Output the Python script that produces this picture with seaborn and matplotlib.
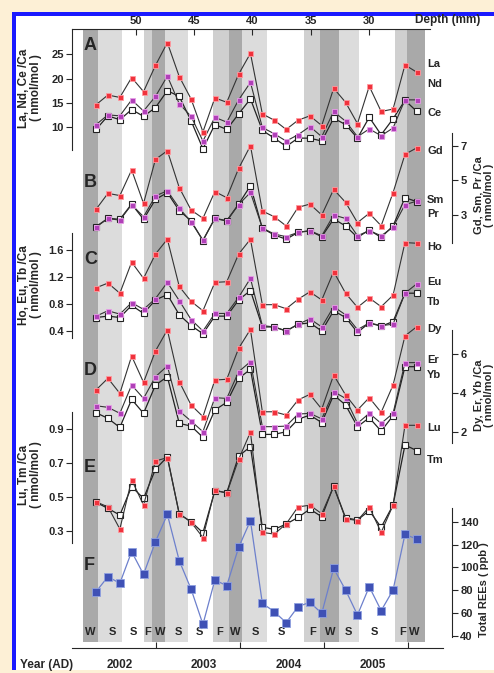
import matplotlib
matplotlib.use("Agg")
import matplotlib.pyplot as plt
import seaborn as sns
import numpy as np
from matplotlib.patches import Rectangle

sns.set_style("white")
plt.rcParams['font.family'] = ['Liberation Sans', 'DejaVu Sans']
plt.rcParams['font.weight'] = 'bold'

depth = [53.40, 52.38, 51.36, 50.35, 49.33, 48.31, 47.29, 46.27, 45.26, 44.24, 43.22, 42.20, 41.18, 40.17,
         39.15, 38.13, 37.11, 36.09, 35.08, 34.06, 33.04, 32.02, 31.00, 29.99, 28.97, 27.95, 26.93, 25.91]

La = [14.6, 16.6, 16.1, 20.2, 17.3, 22.7, 27.4, 20.4, 15.8, 9.0, 16.0, 15.1, 20.9, 25.2, 12.7, 11.4, 9.5, 11.4,
      12.3, 10.3, 18.0, 15.1, 10.7, 18.4, 13.2, 13.7, 22.8, 21.3]
Nd = [10.5, 12.5, 12.3, 15.6, 13.3, 16.3, 20.5, 14.8, 12.2, 7.1, 12.0, 11.0, 15.6, 19.2, 9.9, 8.6, 7.1, 8.4,
      10.1, 8.0, 13.2, 11.2, 8.0, 9.6, 8.2, 9.8, 15.6, 15.6]
Ce = [9.5, 12.3, 11.5, 13.6, 12.2, 14.0, 17.5, 16.3, 11.3, 5.5, 10.5, 9.5, 12.7, 15.8, 9.3, 7.7, 6.0, 7.7,
      7.7, 7.1, 11.8, 10.5, 7.7, 12.0, 8.4, 11.7, 15.5, 13.2]
Gd = [3.33, 4.25, 4.12, 5.6, 3.67, 6.21, 6.71, 4.58, 3.29, 2.81, 4.35, 4.0, 5.69, 7.0, 3.23, 2.9, 2.37, 3.44,
      3.63, 3.0, 4.48, 3.73, 2.56, 3.1, 2.38, 4.29, 6.5, 6.88]
Sm = [2.33, 2.81, 2.75, 3.63, 2.75, 3.9, 4.29, 3.25, 2.67, 1.52, 2.81, 2.67, 3.63, 4.69, 2.23, 1.85, 1.6, 2.0,
      2.08, 1.75, 2.77, 2.37, 1.71, 2.13, 1.71, 2.37, 4.0, 3.77]
Pr = [2.3, 2.8, 2.7, 3.6, 2.9, 4.1, 4.4, 3.4, 2.6, 1.55, 2.8, 2.65, 3.6, 4.3, 2.25, 1.9, 1.75, 2.0, 2.1, 1.8,
      3.0, 2.8, 1.8, 2.1, 1.8, 2.3, 3.6, 3.8]
Ho = [1.04, 1.11, 0.96, 1.42, 1.18, 1.54, 1.76, 1.06, 0.84, 0.70, 1.12, 1.13, 1.54, 1.76, 0.79, 0.79, 0.73,
      0.87, 0.98, 0.86, 1.28, 0.96, 0.75, 0.89, 0.76, 0.93, 1.71, 1.70]
Eu = [0.62, 0.70, 0.65, 0.82, 0.72, 0.88, 1.12, 0.85, 0.57, 0.40, 0.66, 0.66, 0.90, 1.18, 0.48, 0.46, 0.40,
      0.50, 0.58, 0.46, 0.76, 0.64, 0.42, 0.52, 0.48, 0.50, 0.96, 1.10]
Tb = [0.60, 0.62, 0.60, 0.78, 0.66, 0.86, 0.94, 0.64, 0.48, 0.36, 0.62, 0.62, 0.86, 1.00, 0.46, 0.46, 0.40,
      0.50, 0.52, 0.40, 0.70, 0.60, 0.38, 0.52, 0.47, 0.54, 0.96, 0.96]
Dy = [4.16, 4.76, 3.98, 5.91, 4.55, 6.17, 7.26, 4.59, 3.38, 2.78, 4.67, 4.71, 6.31, 7.29, 3.03, 3.03, 2.86,
      3.64, 3.93, 3.17, 4.93, 3.9, 3.12, 3.76, 3.0, 4.41, 6.95, 7.43]
Er = [3.34, 3.26, 2.95, 4.41, 3.72, 4.84, 5.40, 3.07, 2.55, 2.0, 3.76, 3.72, 5.10, 5.62, 2.26, 2.26, 2.29,
      2.91, 2.95, 2.66, 4.07, 3.72, 2.43, 2.95, 2.43, 2.95, 5.57, 5.57]
Yb = [2.98, 2.69, 2.22, 3.67, 2.95, 4.41, 4.84, 2.43, 2.29, 1.71, 3.12, 3.52, 4.76, 5.22, 1.86, 1.86, 2.0,
      2.64, 2.86, 2.47, 3.9, 3.38, 2.26, 2.72, 2.03, 2.83, 5.36, 5.36]
Lu = [0.47, 0.44, 0.31, 0.60, 0.45, 0.71, 0.73, 0.40, 0.35, 0.26, 0.54, 0.52, 0.72, 0.88, 0.29, 0.28, 0.34,
      0.44, 0.45, 0.40, 0.56, 0.37, 0.36, 0.44, 0.29, 0.45, 0.92, 0.92]
Tm = [0.467, 0.431, 0.392, 0.559, 0.49, 0.661, 0.735, 0.398, 0.353, 0.288, 0.535, 0.524, 0.739, 0.794, 0.320,
      0.308, 0.339, 0.378, 0.427, 0.382, 0.563, 0.376, 0.363, 0.418, 0.320, 0.451, 0.804, 0.771]
Total = [78.8, 91.9, 86.1, 113.8, 93.9, 122.5, 146.4, 105.9, 81.1, 50.2, 89.0, 84.0, 117.6, 140.9, 68.6, 61.3,
         51.7, 65.7, 69.5, 59.8, 99.2, 80.2, 58.4, 83.1, 62.2, 80.2, 128.9, 124.8]

band_edges = [54.49, 53.2, 51.2, 49.29, 48.57, 47.49, 45.49, 43.34, 41.97, 40.91, 38.77, 35.57, 34.2, 32.57,
              30.83, 27.77, 26.77, 25.2]
band_shade = ['#a9a9a9', '#dcdcdc', None, '#d0d0d0', '#a9a9a9', '#dcdcdc', None, '#cfcfcf', '#a9a9a9',
              '#dcdcdc', None, '#d0d0d0', '#a9a9a9', '#dcdcdc', None, '#d0d0d0', '#a9a9a9']
season_labels = ['W', 'S', 'S', 'F', 'W', 'S', 'S', 'F', 'W', 'S', 'S', 'F', 'W', 'S', 'S', 'F', 'W']
season_pos = [53.92, 52.03, 50.23, 48.95, 47.92, 46.38, 44.58, 42.78, 41.49, 39.78, 37.55, 34.8, 33.35, 31.8,
              29.58, 27.1, 26.15]
year_labels = ['2002', '2003', '2004', '2005']
year_label_pos = [51.4, 44.15, 36.87, 29.67]
year_ticks = [48.26, 41.06, 33.86, 26.67]
depth_ticks = [50, 45, 40, 35, 30]

W, H = 494, 673
fig = plt.figure(figsize=(W / 100, H / 100), dpi=100)
fig.patch.set_facecolor('#fdf0d6')
fig.patches.append(Rectangle((12 / W, 0.005), 1, 1 - 12 / H - 0.005, transform=fig.transFigure,
                             facecolor='white', edgecolor='none', zorder=-5))
fig.patches.append(Rectangle((12 / W, 0.005), 4 / W, 1 - 12 / H - 0.005, transform=fig.transFigure,
                             facecolor='#1a1aff', edgecolor='none', zorder=-4))
fig.patches.append(Rectangle((12 / W, 1 - 16 / H), 1, 4 / H, transform=fig.transFigure,
                             facecolor='#1a1aff', edgecolor='none', zorder=-4))

TOP, BOT, LEFT, RIGHT = 29, 648, 72, 452
rect = [LEFT / W, 1 - BOT / H, (RIGHT - LEFT) / W, (BOT - TOP) / H]
XL = (55.46, 22.9)

base = fig.add_axes(rect)
base.set_facecolor('none')
base.set_xlim(*XL)
base.set_ylim(0, 1)
for i, c in enumerate(band_shade):
    if c:
        base.axvspan(band_edges[i], band_edges[i + 1], ymin=0.01, ymax=1, color=c, lw=0, zorder=0)
for s in ['left', 'right']:
    base.spines[s].set_visible(False)
base.spines['top'].set_bounds(55.46, 24.8)
base.spines['bottom'].set_bounds(55.46, 23.7)
base.set_yticks([])
base.set_xticks(year_ticks)
base.set_xticklabels([])
base.tick_params(axis='x', direction='in', length=4, bottom=True, top=False)
sec = base.secondary_xaxis('top')
sec.set_xticks(depth_ticks)
sec.set_xticklabels([str(t) for t in depth_ticks], fontsize=8, fontweight='bold')
sec.tick_params(direction='in', length=4, pad=2)
sec.spines['top'].set_visible(False)
for lab, p in zip(season_labels, season_pos):
    base.text(p, 0.018, lab, ha='center', va='bottom', fontsize=8, fontweight='bold')
for lab, p in zip(year_labels, year_label_pos):
    base.text(p, -0.027, lab, ha='center', va='center', fontsize=8.5, fontweight='bold',
              transform=base.get_xaxis_transform())
fig.text(20 / W, 1 - 665 / H, 'Year (AD)', fontsize=8.5, fontweight='bold', va='center')
fig.text(448 / W, 1 - 20 / H, 'Depth (mm)', fontsize=8.5, fontweight='bold', ha='center', va='center')


def panel(v1, p1, v2, p2, side, sp, ticks, fmt):
    ax = fig.add_axes(rect, sharex=base)
    ax.set_facecolor('none')
    s = (v1 - v2) / (p2 - p1)
    ax.set_ylim(v1 - s * (BOT - p1), v1 + s * (p1 - TOP))
    for k in ['top', 'bottom', 'left', 'right']:
        ax.spines[k].set_visible(False)
    ax.spines[side].set_visible(True)
    ax.spines[side].set_bounds(v1 - s * (sp[1] - p1), v1 - s * (sp[0] - p1))
    ax.yaxis.set_ticks_position(side)
    ax.set_yticks(ticks)
    ax.set_yticklabels([fmt.format(t) for t in ticks], fontsize=8, fontweight='bold')
    ax.tick_params(axis='y', direction='out', length=4, pad=2, left=(side == 'left'), right=(side == 'right'))
    ax.tick_params(axis='x', bottom=False, labelbottom=False)
    ax.grid(False)
    return ax


def red(ax, y):
    sns.lineplot(x=depth, y=y, ax=ax, color='#333333', lw=0.8, marker='s', markersize=3.6,
                 markerfacecolor='#f0323c', markeredgecolor='#ff9aa0', markeredgewidth=0.6, zorder=3)


def purple(ax, y):
    sns.lineplot(x=depth, y=y, ax=ax, color='#333333', lw=0.8, marker='s', markersize=3.6,
                 markerfacecolor='#b040b8', markeredgecolor='#e8a0e8', markeredgewidth=0.6, zorder=3)


def opensq(ax, y):
    sns.lineplot(x=depth, y=y, ax=ax, color='#222222', lw=0.9, marker='s', markersize=4.6,
                 markerfacecolor='white', markeredgecolor='#222222', markeredgewidth=0.8, zorder=2)


aA = panel(25, 54.3, 10, 127, 'left', (29, 150), [10, 15, 20, 25], '{:g}')
opensq(aA, Ce); purple(aA, Nd); red(aA, La)
aB = panel(7, 145.7, 3, 215, 'right', (133, 243), [3, 5, 7], '{:g}')
opensq(aB, Sm); purple(aB, Pr); red(aB, Gd)
aC = panel(1.6, 250, 0.4, 331, 'left', (233, 338), [0.4, 0.8, 1.2, 1.6], '{:.1f}')
opensq(aC, Tb); purple(aC, Eu); red(aC, Ho)
aD = panel(6, 354.3, 2, 431.7, 'right', (330, 443), [2, 4, 6], '{:g}')
opensq(aD, Yb); purple(aD, Er); red(aD, Dy)
aE = panel(0.7, 462.7, 0.3, 530.7, 'left', (412, 543), [0.3, 0.5, 0.7, 0.9], '{:.1f}')
red(aE, Lu); opensq(aE, Tm)
aF = panel(140, 521.7, 40, 636, 'right', (508, 637), [40, 60, 80, 100, 120, 140], '{:g}')
sns.lineplot(x=depth, y=Total, ax=aF, color='#6d80cc', lw=0.9, marker='s', markersize=5.2,
             markerfacecolor='#3f51b5', markeredgecolor='#8fa0e0', markeredgewidth=0.6, zorder=3)

for name, y in [('La', 64), ('Nd', 84), ('Ce', 113), ('Gd', 151), ('Sm', 200), ('Pr', 214), ('Ho', 247),
                ('Eu', 282), ('Tb', 302), ('Dy', 329), ('Er', 360), ('Yb', 375), ('Lu', 428), ('Tm', 460)]:
    fig.text(427 / W, 1 - y / H, name, fontsize=8, fontweight='bold', va='center')
for L, y in [('A', 45), ('B', 183), ('C', 260), ('D', 370), ('E', 468), ('F', 565)]:
    fig.text(84 / W, 1 - y / H, L, fontsize=13, fontweight='bold', va='center')
for txt, x, y in [('La, Nd, Ce /Ca\n( nmol/mol )', 30, 88), ('Ho, Eu, Tb /Ca\n( nmol/mol )', 30, 285),
                  ('Lu, Tm /Ca\n( nmol/mol )', 30, 475)]:
    fig.text(x / W, 1 - y / H, txt, rotation=90, fontsize=8.5, fontweight='bold', ha='center', va='center',
             linespacing=1.1)
for txt, x, y in [('Gd, Sm, Pr /Ca\n( nmol/mol )', 484, 195), ('Dy, Er, Yb /Ca\n( nmol/mol )', 484, 395),
                  ('Total REEs ( ppb )', 484, 590)]:
    fig.text(x / W, 1 - y / H, txt, rotation=90, fontsize=8, fontweight='bold', ha='center', va='center',
             linespacing=1.1)

fig.savefig('out.png', dpi=100, facecolor=fig.get_facecolor())
